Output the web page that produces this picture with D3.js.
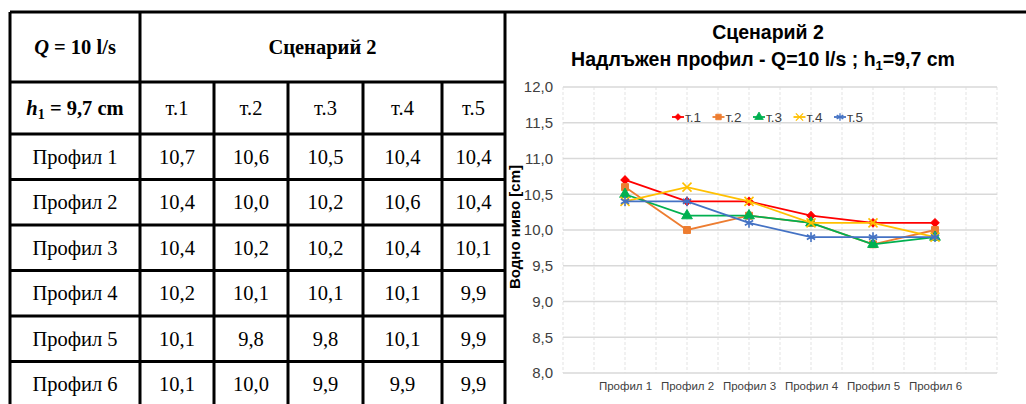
<!DOCTYPE html>
<html>
<head>
<meta charset="utf-8">
<script src="https://cdn.jsdelivr.net/npm/d3@7"></script>
<style>
  body { margin: 0; background: #fff; }
  svg { display: block; }
</style>
</head>
<body>
<div id="graph"></div>
<script>
// data
let profiles = ["Профил 1", "Профил 2", "Профил 3", "Профил 4", "Профил 5", "Профил 6"];
let points = ["т.1", "т.2", "т.3", "т.4", "т.5"];
let t1 = [10.7, 10.4, 10.4, 10.2, 10.1, 10.1];
let t2 = [10.6, 10.0, 10.2, 10.1, 9.8, 10.0];
let t3 = [10.5, 10.2, 10.2, 10.1, 9.8, 9.9];
let t4 = [10.4, 10.6, 10.4, 10.1, 10.1, 9.9];
let t5 = [10.4, 10.4, 10.1, 9.9, 9.9, 9.9];
let yTicks = [8.0, 8.5, 9.0, 9.5, 10.0, 10.5, 11.0, 11.5, 12.0];

let seriesValues = [t1, t2, t3, t4, t5];
let colors = ["#FF0000", "#ED7D31", "#00B050", "#FFC000", "#4472C4"];
let symbols = [d3.symbolSquare, d3.symbolSquare, d3.symbolTriangle, d3.symbolTimes, d3.symbolAsterisk];
let symbolSizes = [34, 48, 50, 55, 64];
let rotations = [45, 0, 0, 0, 0];
let filled = [true, true, true, false, false];

let w = 1026;
let h = 404;

let fmt = function(v){ return d3.format(".1f")(v).replace(".", ","); };

let viz = d3.select("#graph")
  .append("svg")
    .attr("width", w)
    .attr("height", h)
;

// ---------- table ----------
let tableLeft = 10;
let colWidths = [130, 74, 74, 75, 79, 63];
let colX = [tableLeft];
colWidths.forEach(function(cw){ colX.push(colX[colX.length-1] + cw); });
let headTop = 12;
let headMid = 82;
let headBottom = 134;

let rowScale = d3.scaleBand().domain(profiles).range([headBottom, headBottom + 45.5*profiles.length]);

let table = viz.append("g").attr("class", "table")
  .style("font-family", "'Liberation Serif', 'Times New Roman', serif")
  .style("font-size", "20.5px");

function cellX(i){ return (colX[i] + colX[i+1]) / 2; }

// header row 1
let q = table.append("text")
  .attr("x", cellX(0)).attr("y", (headTop+headMid)/2 + 7)
  .attr("text-anchor", "middle").attr("font-weight", "bold");
q.append("tspan").attr("font-style", "italic").text("Q");
q.append("tspan").text(" = 10 l/s");

table.append("text")
  .attr("x", (colX[1] + colX[6]) / 2).attr("y", (headTop+headMid)/2 + 7)
  .attr("text-anchor", "middle").attr("font-weight", "bold")
  .text("Сценарий 2");

// header row 2
let hh = table.append("text")
  .attr("x", cellX(0)).attr("y", (headMid+headBottom)/2 + 7)
  .attr("text-anchor", "middle").attr("font-weight", "bold");
hh.append("tspan").attr("font-style", "italic").text("h");
hh.append("tspan").attr("font-size", "14px").attr("dy", 4).text("1");
hh.append("tspan").attr("dy", -4).text(" = 9,7 cm");

table.selectAll(".ptHead").data(points).enter()
  .append("text")
    .attr("class", "ptHead")
    .attr("x", function(d, i){ return cellX(i+1); })
    .attr("y", (headMid+headBottom)/2 + 7)
    .attr("text-anchor", "middle")
    .text(function(d){ return d; });

// body rows
let rows = table.selectAll(".row").data(profiles).enter()
  .append("g").attr("class", "row")
  .attr("transform", function(d){ return "translate(0," + (rowScale(d) + rowScale.bandwidth()/2 + 7) + ")"; });

rows.append("text")
  .attr("x", cellX(0)).attr("text-anchor", "middle")
  .text(function(d){ return d; });

rows.each(function(d, r){
  d3.select(this).selectAll(".val").data(seriesValues).enter()
    .append("text")
      .attr("class", "val")
      .attr("x", function(s, i){ return cellX(i+1); })
      .attr("text-anchor", "middle")
      .text(function(s){ return fmt(s[r]); });
});

// table lines
let lineColor = "#000";
let lw = 3;
let hLines = [headTop, headMid, headBottom];
profiles.forEach(function(p){ hLines.push(rowScale(p) + rowScale.bandwidth()); });
table.selectAll(".hl").data(hLines).enter()
  .append("line")
    .attr("x1", tableLeft).attr("x2", colX[6])
    .attr("y1", function(d){ return d; }).attr("y2", function(d){ return d; })
    .attr("stroke", lineColor).attr("stroke-width", lw);

table.selectAll(".vl").data(colX).enter()
  .append("line")
    .attr("x1", function(d){ return d; }).attr("x2", function(d){ return d; })
    .attr("y1", function(d, i){ return (i >= 2 && i <= 5) ? headMid : headTop; })
    .attr("y2", h + 10)
    .attr("stroke", lineColor).attr("stroke-width", lw);

// ---------- chart ----------
let chartLeft = colX[6];
viz.append("line")
  .attr("x1", chartLeft).attr("x2", w).attr("y1", headTop).attr("y2", headTop)
  .attr("stroke", "#000").attr("stroke-width", lw);

let plotL = 563, plotR = 997, plotT = 87, plotB = 373;
let xScale = d3.scaleLinear().domain([0, 7]).range([plotL, plotR]);
let yScale = d3.scaleLinear().domain([8, 12]).range([plotB, plotT]);

let chart = viz.append("g").attr("class", "chart")
  .style("font-family", "'Liberation Sans', Arial, sans-serif");

// vertical dashed grid
let xGrid = d3.range(0, 7.01, 0.5);
chart.selectAll(".vg").data(xGrid).enter()
  .append("line")
    .attr("x1", function(d){ return xScale(d); }).attr("x2", function(d){ return xScale(d); })
    .attr("y1", plotT).attr("y2", plotB)
    .attr("stroke", "#e3e3e3").attr("stroke-width", 1)
    .attr("stroke-dasharray", "3,2");

// horizontal grid
chart.selectAll(".hg").data(yTicks).enter()
  .append("line")
    .attr("x1", plotL).attr("x2", plotR)
    .attr("y1", function(d){ return yScale(d); }).attr("y2", function(d){ return yScale(d); })
    .attr("stroke", "#d9d9d9").attr("stroke-width", 1.3);

// y axis
let yAxis = d3.axisLeft(yScale).tickValues(yTicks).tickFormat(fmt).tickSize(0).tickPadding(10);
let yAxisGroup = chart.append("g").attr("transform", "translate(" + plotL + ",0)").call(yAxis);
yAxisGroup.select(".domain").remove();
yAxisGroup.selectAll("text")
  .style("font-family", "'Liberation Sans', Arial, sans-serif")
  .style("font-size", "15px").attr("fill", "#404040");

// x axis labels
let xAxis = d3.axisBottom(xScale).tickValues(d3.range(1, profiles.length + 1))
  .tickFormat(function(d){ return profiles[d-1]; }).tickSize(0).tickPadding(9);
let xAxisGroup = chart.append("g").attr("transform", "translate(0," + plotB + ")").call(xAxis);
xAxisGroup.select(".domain").remove();
xAxisGroup.selectAll("text")
  .style("font-family", "'Liberation Sans', Arial, sans-serif")
  .style("font-size", "11.5px").attr("fill", "#404040");

// y axis title
chart.append("text")
  .attr("transform", "translate(520," + ((plotT+plotB)/2 - 3) + ") rotate(-90)")
  .attr("text-anchor", "middle")
  .attr("font-weight", "bold").attr("font-size", "15px")
  .attr("fill", "#000")
  .text("Водно ниво [cm]");

// title
chart.append("text")
  .attr("x", 768).attr("y", 39).attr("text-anchor", "middle")
  .attr("font-weight", "bold").attr("font-size", "19.5px")
  .text("Сценарий 2");
let t2t = chart.append("text")
  .attr("x", 763).attr("y", 66).attr("text-anchor", "middle")
  .attr("font-weight", "bold").attr("font-size", "19.5px");
t2t.append("tspan").text("Надлъжен профил - Q=10 l/s ; h");
t2t.append("tspan").attr("font-size", "13px").attr("dy", 4).text("1");
t2t.append("tspan").attr("dy", -4).text("=9,7 cm");

// series
let line = d3.line()
  .x(function(d, i){ return xScale(i + 1); })
  .y(function(d){ return yScale(d); });

function drawMarker(sel, k){
  sel.attr("d", d3.symbol().type(symbols[k]).size(symbolSizes[k]))
    .attr("fill", filled[k] ? colors[k] : "none")
    .attr("stroke", colors[k])
    .attr("stroke-width", filled[k] ? 1 : 1.6);
}

seriesValues.forEach(function(vals, k){
  let g = chart.append("g").attr("class", "series");
  g.append("path")
    .attr("d", line(vals))
    .attr("fill", "none")
    .attr("stroke", colors[k])
    .attr("stroke-width", 1.8);
  g.selectAll(".mk").data(vals).enter()
    .append("path")
      .attr("class", "mk")
      .attr("transform", function(d, i){ return "translate(" + xScale(i+1) + "," + yScale(d) + ") rotate(" + rotations[k] + ")"; })
      .call(drawMarker, k);
});

// legend
let legend = chart.append("g").attr("transform", "translate(672,117)");
let items = legend.selectAll(".li").data(points).enter()
  .append("g").attr("class", "li")
  .attr("transform", function(d, i){ return "translate(" + (i * 40.5) + ",0)"; });
items.append("line")
  .attr("x1", 0).attr("x2", 12).attr("y1", 0).attr("y2", 0)
  .attr("stroke", function(d, i){ return colors[i]; }).attr("stroke-width", 1.8);
items.append("path")
  .attr("transform", function(d, i){ return "translate(6,0) rotate(" + rotations[i] + ") scale(0.8)"; })
  .each(function(d, i){ d3.select(this).call(drawMarker, i); });
items.append("text")
  .attr("x", 13).attr("y", 5)
  .attr("font-size", "13.5px").attr("fill", "#404040")
  .text(function(d){ return d; });
</script>
</body>
</html>
